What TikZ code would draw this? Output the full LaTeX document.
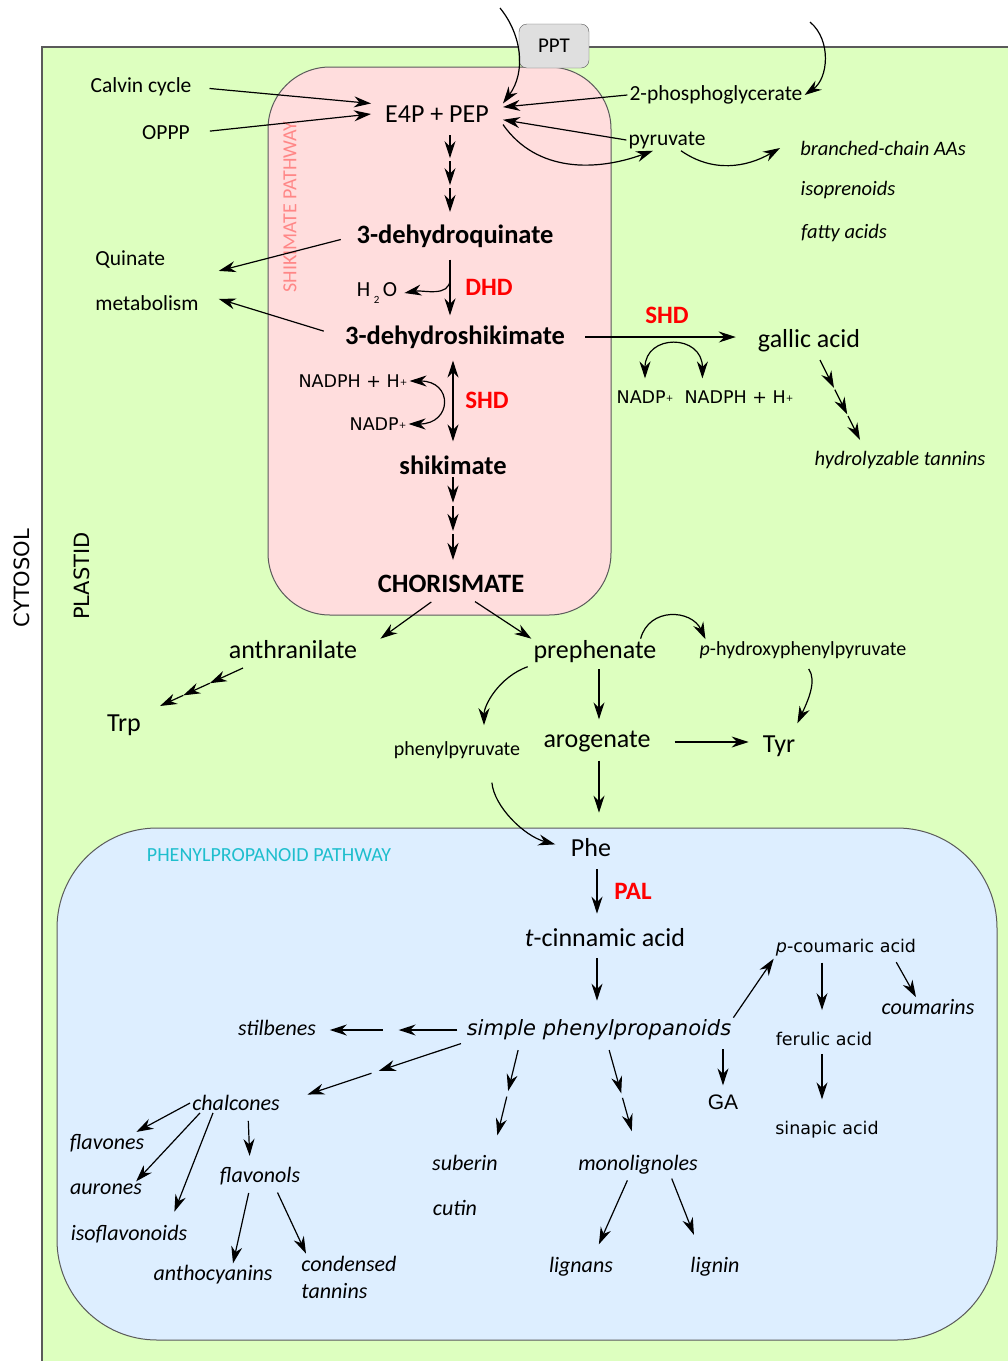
\documentclass[tikz,border=0pt]{standalone}
\usepackage{fontspec}
\setmainfont{Carlito}
\newfontfamily\dejavu{DejaVu Sans}
\newfontfamily\arialfont{Liberation Sans}
\usetikzlibrary{arrows.meta,calc,positioning}

\definecolor{plastidgreen}{RGB}{221,255,191}
\definecolor{shikpink}{RGB}{255,221,221}
\definecolor{phenblue}{RGB}{221,238,255}
\definecolor{enzred}{RGB}{255,0,0}
\definecolor{shiklabel}{RGB}{255,135,135}
\definecolor{phenlabel}{RGB}{30,190,205}
\definecolor{edgegray}{RGB}{90,90,90}

\newcommand{\smallplus}{\raisebox{1.5pt}{\fontsize{9}{9}\selectfont+}}

\begin{document}
\begin{tikzpicture}[x=1pt,y=1pt,
  met/.style={font=\fontsize{26}{30}\selectfont, inner sep=2pt},
  smet/.style={font=\fontsize{21.5}{26}\selectfont, inner sep=2pt},
  bmet/.style={font=\fontsize{26.5}{30}\selectfont\bfseries, inner sep=2pt},
  prod/.style={font=\fontsize{20.5}{27}\selectfont\itshape, inner sep=2pt},
  pprod/.style={font=\fontsize{22}{27}\selectfont\itshape, inner sep=2pt},
  enz/.style={font=\fontsize{25}{30}\selectfont\bfseries, text=enzred, inner sep=2pt},
  cof/.style={font=\dejavu\fontsize{17.5}{21}\selectfont, inner sep=2pt},
  acid/.style={font=\dejavu\fontsize{17.5}{21}\selectfont, inner sep=2pt},
  arr/.style={-{Stealth[length=17pt,width=11pt,inset=5.5pt]}, line width=1.2pt},
  darr/.style={{Stealth[length=17pt,width=11pt,inset=5.5pt]}-{Stealth[length=17pt,width=11pt,inset=5.5pt]}, line width=1.2pt}
]
\useasboundingbox (0,0) rectangle (1008,-1361);

% compartments
\fill[white] (0,0) rectangle (1008,-1361);
\filldraw[fill=plastidgreen, draw=edgegray, line width=1.2pt] (42,-1380) -- (42,-47) -- (1020,-47) -- (1020,-1380) -- cycle;
\filldraw[fill=shikpink, draw=edgegray, line width=1pt, rounded corners=62pt] (268,-67) rectangle (611,-615);
\filldraw[fill=phenblue, draw=edgegray, line width=1pt, rounded corners=100pt] (57,-828) rectangle (997,-1340);
\node[draw=edgegray, fill=gray!25, rounded corners=8pt, minimum width=70pt, minimum height=44pt, font=\fontsize{21}{24}\selectfont] (ppt) at (554,-46) {PPT};

\node[rotate=90, font=\dejavu\fontsize{21}{25}\selectfont] (cyto) at (22,-578) {CYTOSOL};
\node[rotate=90, font=\dejavu\fontsize{21}{25}\selectfont] (plas) at (82,-576) {PLASTID};
\node[rotate=90, text=shiklabel, font=\fontsize{20}{24}\selectfont] (shikpw) at (290,-207) {SHIKIMATE PATHWAY};
\node[text=phenlabel, font=\fontsize{20}{24}\selectfont] (phenpw) at (269,-855) {PHENYLPROPANOID PATHWAY};

% shikimate pathway
\node[smet] (cal) at (141,-87) {Calvin cycle};
\node[smet] (oppp) at (166,-133) {OPPP};
\node[met, inner xsep=14pt] (eppep) at (437,-114) {E4P + PEP};
\node[smet] (pgly) at (716,-95) {2-phosphoglycerate};
\node[smet] (pyr) at (667,-140) {pyruvate};
\node[prod] (bcaa) at (883,-148) {branched-chain AAs};
\node[prod] (isopr) at (848,-190) {isoprenoids};
\node[prod] (fatty) at (844,-233) {fatty acids};
\node[bmet] (dhq) at (455,-236) {3-dehydroquinate};
\node[smet, font=\fontsize{21.5}{45}\selectfont, align=left, inner xsep=20pt] (qm) at (147,-281) {Quinate\\metabolism};
\node[smet, inner xsep=7pt] (water) at (377,-293) {H\,\raisebox{-7pt}{\fontsize{11}{11}\selectfont 2}\,O};
\node[enz] (dhd) at (489,-287) {DHD};
\node[bmet] (dhs) at (455,-337) {3-dehydroshikimate};
\node[enz] (shdg) at (667,-315) {SHD};
\node[met] (gallic) at (809,-341) {gallic acid};
\node[cof] (nadphA) at (353,-381) {NADPH + H\smallplus};
\node[cof] (nadpA) at (378,-424) {NADP\smallplus};
\node[enz] (shdA) at (487,-400) {SHD};
\node[cof] (nadpB) at (645,-397) {NADP\smallplus};
\node[cof] (nadphB) at (739,-397) {NADPH + H\smallplus};
\node[prod] (hydt) at (900,-460) {hydrolyzable tannins};
\node[bmet] (shik) at (453,-465) {shikimate};
\node[bmet] (chor) at (451,-584) {CHORISMATE};

% aromatic amino acids
\node[met] (anth) at (293,-650) {anthranilate};
\node[met] (prep) at (595,-652) {prephenate};
\node[smet, font=\fontsize{20}{24}\selectfont] (hpp) at (803,-650) {\textit{p}-hydroxyphenylpyruvate};
\node[met] (trp) at (124,-725) {Trp};
\node[smet, font=\fontsize{20}{24}\selectfont] (phpyr) at (457,-750) {phenylpyruvate};
\node[met] (arog) at (597,-742) {arogenate};
\node[met] (tyr) at (779,-746) {Tyr};
\node[met] (phe) at (591,-848) {Phe};

% phenylpropanoid pathway
\node[enz] (pal) at (633,-891) {PAL};
\node[met] (cinn) at (605,-938) {\textit{t}-cinnamic acid};
\node[acid] (pcou) at (846,-948) {\textit{p}-coumaric acid};
\node[pprod] (coum) at (928,-1007) {coumarins};
\node[font=\dejavu\itshape\fontsize{21}{25}\selectfont, inner sep=2pt] (simple) at (599,-1030) {simple phenylpropanoids};
\node[pprod] (stil) at (277,-1028) {stilbenes};
\node[acid] (ferul) at (824,-1039) {ferulic acid};
\node[pprod] (chal) at (236,-1103) {chalcones};
\node[font=\arialfont\fontsize{21}{25}\selectfont, inner sep=2pt] (ga) at (723,-1102) {GA};
\node[acid] (sinap) at (827,-1130) {sinapic acid};
\node[pprod] (flavo) at (107,-1143) {flavones};
\node[pprod] (flavl) at (260,-1176) {flavonols};
\node[pprod] (suber) at (465,-1163) {suberin};
\node[pprod] (monol) at (638,-1165) {monolignoles};
\node[pprod] (auro) at (106,-1189) {aurones};
\node[pprod] (cutin) at (455,-1208) {cutin};
\node[pprod] (isofl) at (129,-1234) {isoflavonoids};
\node[pprod] (antho) at (213,-1275) {anthocyanins};
\node[pprod, align=left] (ctann) at (349,-1277) {condensed\\tannins};
\node[pprod] (lignans) at (581,-1267) {lignans};
\node[pprod] (lignin) at (715,-1267) {lignin};

% into E4P + PEP
\coordinate (pptin) at (500,-8);
\coordinate (pglyin) at (810,-22);
\draw[arr, shorten <=16pt] (cal.east) -- (eppep.north west);
\draw[arr, shorten <=18pt] (oppp.east) -- (eppep.west);
\draw[arr] (pgly.west) -- (eppep.6);
\draw[arr] (pyr.west) -- (eppep.-5);
\draw[arr] (pptin) .. controls (522,-35) and (526,-72) .. (eppep.north east);
\draw[arr] (eppep.south east) to[out=-55, in=200] ([xshift=-14pt]pyr.south);
\draw[arr] ([xshift=14pt]pyr.south) to[out=-35, in=210] ([xshift=-18pt]bcaa.west);
\draw[arr] (pglyin) to[out=-40, in=35] (pgly.east);

% main trunk
\coordinate (q0) at (450,-135);
\coordinate (q1) at (450,-212);
\foreach \s/\e in {0/.3, .34/.65, .69/1}
  \draw[arr] ($(q0)!\s!(q1)$) -- ($(q0)!\e!(q1)$);
\draw[arr, shorten <=14pt] (dhq.west) -- (qm.8);
\draw[arr, shorten <=20pt] (dhs.west) -- (qm.-14);
\draw[arr, shorten <=10pt, shorten >=8pt] ([xshift=-5pt]dhq.south) -- ([xshift=-5pt]dhs.north);
\coordinate (hsplit) at ($([xshift=-5pt]dhq.south)!0.4!([xshift=-5pt]dhs.north)$);
\draw[arr] (hsplit) to[out=-90, in=10] (water.east);
\draw[arr, shorten <=18pt, shorten >=20pt] (dhs.east) -- (dhs.east -| gallic.west);
\draw[darr] ([yshift=10pt]nadpB.north) to[out=90, in=90, looseness=2] ([xshift=20pt, yshift=10pt]nadphB.north west);
\draw[darr] (nadphA.east) to[out=0, in=0, looseness=2.6] (nadpA.east);
\draw[darr, shorten <=10pt, shorten >=12pt] ([xshift=-2pt]dhs.south) -- ([xshift=-2pt]dhs.south |- shik.north);
\coordinate (g0) at (820,-360);
\coordinate (g1) at (860,-440);
\foreach \s/\e in {0/.35, .37/.68, .7/1}
  \draw[arr] ($(g0)!\s!(g1)$) -- ($(g0)!\e!(g1)$);
\coordinate (s0) at (453,-477);
\coordinate (s1) at (453,-560);
\foreach \s/\e in {0/.31, .35/.65, .69/1}
  \draw[arr] ($(s0)!\s!(s1)$) -- ($(s0)!\e!(s1)$);

% branch point
\draw[arr, shorten <=12pt] ([xshift=-10pt]chor.south) -- ([xshift=21pt]anth.north east);
\draw[arr, shorten <=12pt] ([xshift=14pt]chor.south) -- (prep.north west);
\coordinate (a0) at (243,-668);
\coordinate (a1) at (160,-706);
\foreach \s/\e in {0/.4, .4/.72, .72/1}
  \draw[arr] ($(a0)!\s!(a1)$) -- ($(a0)!\e!(a1)$);
\draw[arr] ([xshift=-18pt]prep.north east) to[out=75, in=115, looseness=1.3] ([xshift=8pt]hpp.north west);
\draw[arr, shorten <=10pt] (hpp.south) to[out=-55, in=65] ([yshift=10pt]tyr.north east);
\draw[arr, shorten <=4pt, shorten >=14pt] (prep.south west) to[out=200, in=90] ([xshift=27pt]phpyr.north);
\draw[arr, shorten <=4pt, shorten >=10pt] ([xshift=4pt]prep.south) -- ([xshift=4pt]prep.south |- arog.north);
\draw[arr, shorten <=22pt, shorten >=12pt] (arog.east) -- (arog.east -| tyr.west);
\draw[arr, shorten <=6pt, shorten >=24pt] ([xshift=2pt]arog.south) -- ([xshift=2pt]arog.south |- phe.north);
\draw[arr, shorten <=22pt, shorten >=14pt] ([xshift=33pt]phpyr.south) to[out=-85, in=165] (phe.west);

% phenylpropanoids
\draw[arr, shorten <=10pt, shorten >=13pt] ([xshift=6pt]phe.south) -- ([xshift=6pt]phe.south |- cinn.north);
\draw[arr, shorten <=9pt, shorten >=17pt] ([xshift=-8pt]cinn.south) -- ([xshift=-8pt]cinn.south |- simple.north);
\draw[arr] (simple.north east) -- (pcou.south west);
\draw[arr, shorten <=4pt, shorten >=20pt] ([xshift=-24pt]pcou.south) -- ([xshift=-24pt]pcou.south |- ferul.north);
\draw[arr, shorten <=4pt] ([xshift=-24pt]pcou.south east) -- ([xshift=-12pt]coum.north);
\draw[arr, shorten <=6pt, shorten >=20pt] ([xshift=-2pt]ferul.south) -- ([xshift=-2pt]ferul.south |- sinap.north);
\draw[arr, shorten <=7pt, shorten >=7pt] (ga.north |- simple.south) -- (ga.north);
\foreach \s/\e in {.05/.45, .56/.92}
  \draw[arr] ($(simple.west)!\s!(simple.west -| stil.east)$) -- ($(simple.west)!\e!(simple.west -| stil.east)$);
\foreach \s/\e in {.02/.47, .51/.86}
  \draw[arr] ($(simple.south west)!\s!(chal.east)$) -- ($(simple.south west)!\e!(chal.east)$);
\foreach \s/\e in {.07/.44, .49/.84}
  \draw[arr] ($([xshift=-79pt]simple.south)!\s!([xshift=28pt]suber.north)$) -- ($([xshift=-79pt]simple.south)!\e!([xshift=28pt]suber.north)$);
\foreach \s/\e in {.07/.46, .5/.8}
  \draw[arr] ($([xshift=8pt]simple.south)!\s!(monol.north)$) -- ($([xshift=8pt]simple.south)!\e!(monol.north)$);
\draw[arr] (chal.west) -- ([xshift=-10pt]flavo.north east);
\draw[arr] ([xshift=-36pt]chal.south) -- ([xshift=-8pt]auro.north east);
\draw[arr, shorten >=12pt] ([xshift=-23pt]chal.south) -- ([xshift=41pt]isofl.north);
\draw[arr, shorten <=8pt, shorten >=9pt] ([xshift=12pt]chal.south) -- ([xshift=-10pt]flavl.north);
\draw[arr, shorten <=6pt] ([xshift=-10pt]flavl.south) -- ([xshift=20pt]antho.north);
\draw[arr, shorten <=6pt] ([xshift=15pt]flavl.south) -- ([xshift=-43pt]ctann.north);
\draw[arr, shorten <=4pt, shorten >=12pt] ([xshift=-9pt]monol.south) -- ([xshift=13pt]lignans.north);
\draw[arr, shorten <=2pt, shorten >=22pt] ([xshift=33pt]monol.south) -- ([xshift=-13pt]lignin.north);

\end{tikzpicture}
\end{document}
